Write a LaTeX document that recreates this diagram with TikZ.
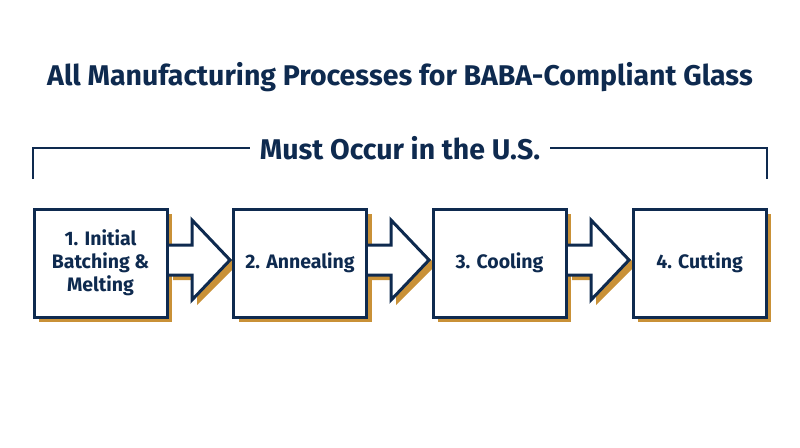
\documentclass[tikz,border=0pt]{standalone}
\usepackage{fontspec}
\setmainfont{Fira Sans}
\definecolor{navy}{HTML}{0E2A4F}
\definecolor{gold}{HTML}{C99137}
\begin{document}
\begin{tikzpicture}[x=1pt,y=-1pt,
  box/.style={draw=navy,line width=3pt,fill=white,minimum width=133pt,minimum height=108pt,inner sep=0pt,align=center,font=\fontsize{19.5}{23}\selectfont\bfseries,text=navy},
  shadow/.style={fill=gold,minimum width=133pt,minimum height=108pt,inner sep=0pt}]
\useasboundingbox (0,0) rectangle (800,447);
\node[font=\fontsize{28.5}{32}\selectfont\bfseries,text=navy] (title) at (400,77) {All Manufacturing Processes for BABA-Compliant Glass};
\node[font=\fontsize{28.5}{32}\selectfont\bfseries,text=navy,fill=white,inner xsep=10pt] (sub) at (400,148) {Must Occur in the U.S.};
\coordinate (bl) at (33,179); \coordinate (br) at (767,179);
\draw[navy,line width=2.5pt] (bl) |- (sub.west);
\draw[navy,line width=2.5pt] (br) |- (sub.east);
\foreach \i/\x in {1/100.5,2/300,3/499.5,4/699.5}{
  \node[shadow] at (\x+5,268) {};
}
\foreach \a in {168,367,567}{
  \fill[gold,shift={(5,5)}] (\a,245) -- (\a+24,245) -- (\a+24,220) -- (\a+64,260) -- (\a+24,300) -- (\a+24,275) -- (\a,275) -- cycle;
  \draw[navy,line width=3pt,fill=white,line join=miter] (\a,245) -- (\a+24,245) -- (\a+24,220) -- (\a+62,260) -- (\a+24,300) -- (\a+24,275) -- (\a,275);
}
\node[box] (b1) at (100.5,263) {1. Initial\\Batching \&\\Melting};
\node[box] (b2) at (300,263) {2. Annealing};
\node[box] (b3) at (499.5,263) {3. Cooling};
\node[box] (b4) at (699.5,263) {4. Cutting};
\end{tikzpicture}
\end{document}
